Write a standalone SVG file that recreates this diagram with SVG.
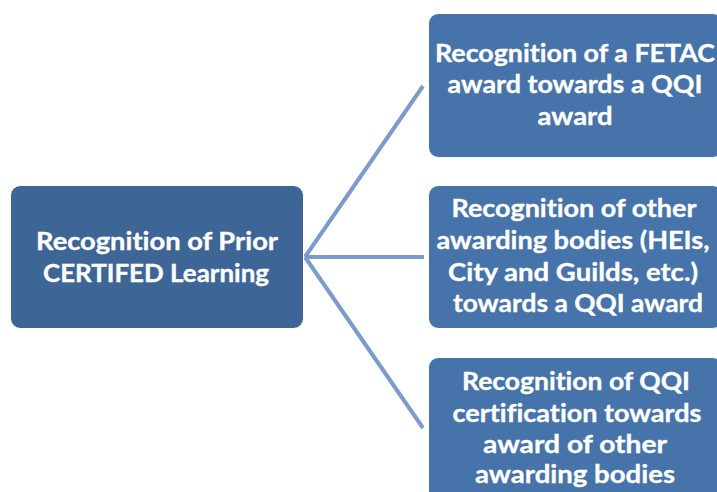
<svg xmlns="http://www.w3.org/2000/svg" width="717" height="492" viewBox="0 0 717 492">
<style>
.n1{fill:#3D6697;stroke:#ffffff;stroke-width:1}
.n2{fill:#4673AA;stroke:#ffffff;stroke-width:1}
.t{font-family:Lato,"Open Sans","Liberation Sans",sans-serif;font-weight:bold;font-size:25.5px;fill:#ffffff;text-anchor:middle;font-variant-ligatures:none;stroke:#ffffff;stroke-width:0.35}
.c{stroke:#7B9BCC;stroke-width:4;fill:none;stroke-linecap:butt}
</style>
<rect width="717" height="492" fill="#ffffff"/>
<g id="connectors">
<line class="c" x1="305" y1="257" x2="423" y2="86"/>
<line class="c" x1="305" y1="257" x2="424" y2="257"/>
<line class="c" x1="305" y1="257" x2="423" y2="428"/>
</g>
<g id="node-prior">
<rect class="n1" x="10.5" y="185.5" width="293" height="143" rx="10"/>
<text class="t" x="157" y="250" textLength="242" lengthAdjust="spacingAndGlyphs">Recognition of Prior</text>
<text class="t" x="156" y="282" textLength="226" lengthAdjust="spacingAndGlyphs">CERTIFED Learning</text>
</g>
<g id="node-fetac">
<rect class="n2" x="428.5" y="13.5" width="294" height="144" rx="10"/>
<text class="t" x="575" y="62" textLength="280" lengthAdjust="spacingAndGlyphs">Recognition of a FETAC</text>
<text class="t" x="575" y="93" textLength="255" lengthAdjust="spacingAndGlyphs">award towards a QQI</text>
<text class="t" x="575" y="125" textLength="75" lengthAdjust="spacingAndGlyphs">award</text>
</g>
<g id="node-other">
<rect class="n2" x="428.5" y="185.5" width="294" height="143" rx="10"/>
<text class="t" x="574" y="217" textLength="245" lengthAdjust="spacingAndGlyphs">Recognition of other</text>
<text class="t" x="573" y="249" textLength="273" lengthAdjust="spacingAndGlyphs">awarding bodies (HEIs,</text>
<text class="t" x="573" y="281" textLength="250" lengthAdjust="spacingAndGlyphs">City and Guilds, etc.)</text>
<text class="t" x="578" y="312" textLength="250" lengthAdjust="spacingAndGlyphs">towards a QQI award</text>
</g>
<g id="node-qqi">
<rect class="n2" x="428.5" y="357.5" width="294" height="150" rx="10"/>
<text class="t" x="576" y="390" textLength="228" lengthAdjust="spacingAndGlyphs">Recognition of QQI</text>
<text class="t" x="577" y="422" textLength="249" lengthAdjust="spacingAndGlyphs">certification towards</text>
<text class="t" x="575" y="453" textLength="184" lengthAdjust="spacingAndGlyphs">award of other</text>
<text class="t" x="575" y="483" textLength="200" lengthAdjust="spacingAndGlyphs">awarding bodies</text>
</g>
</svg>
